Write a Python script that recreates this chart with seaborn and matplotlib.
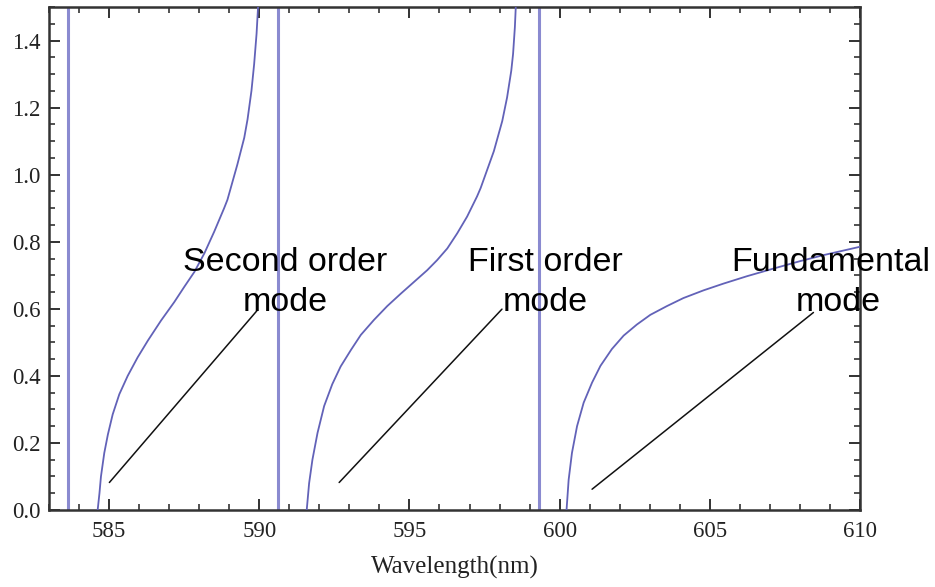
import matplotlib
matplotlib.use("Agg")
import matplotlib.pyplot as plt
import seaborn as sns
import pandas as pd
from matplotlib.ticker import MultipleLocator

# ---- data ----
second_x = [584.62, 584.68, 584.73, 584.84, 584.96, 585.12, 585.34, 585.62, 585.95,
            586.29, 586.73, 587.17, 587.50, 587.84, 588.17, 588.50, 588.83, 588.94,
            589.27, 589.50, 589.61, 589.74, 589.83, 589.91, 589.96]
second_y = [0.00, 0.05, 0.10, 0.17, 0.225, 0.285, 0.345, 0.40, 0.455,
            0.505, 0.565, 0.62, 0.665, 0.71, 0.765, 0.83, 0.90, 0.925,
            1.03, 1.11, 1.165, 1.25, 1.33, 1.42, 1.50]

first_x = [591.58, 591.66, 591.77, 591.94, 592.16, 592.43, 592.71, 593.05, 593.38,
           593.82, 594.26, 594.71, 595.15, 595.59, 595.92, 596.26, 596.59, 596.92,
           597.25, 597.37, 597.81, 598.09, 598.25, 598.39, 598.45, 598.51, 598.54]
first_y = [0.00, 0.08, 0.15, 0.23, 0.31, 0.375, 0.428, 0.477, 0.522,
           0.567, 0.608, 0.645, 0.68, 0.715, 0.745, 0.78, 0.825, 0.875,
           0.935, 0.96, 1.07, 1.16, 1.23, 1.31, 1.36, 1.44, 1.50]

fund_x = [600.23, 600.30, 600.41, 600.58, 600.80, 601.08, 601.36, 601.74, 602.13,
          602.57, 603.02, 603.57, 604.12, 604.79, 605.45, 606.23, 607.12, 608.00,
          608.78, 610.00]
fund_y = [0.00, 0.09, 0.17, 0.25, 0.32, 0.38, 0.43, 0.48, 0.52,
          0.553, 0.582, 0.608, 0.632, 0.655, 0.675, 0.697, 0.72, 0.742,
          0.76, 0.785]

asymptotes = [583.64, 590.62, 599.30]

labels_line1 = ["Second order", "First order", "Fundamental"]
labels_line2 = ["mode", "mode", "mode"]
label_x1 = [590.85, 599.53, 609.04]
label_x2 = [590.85, 599.53, 609.27]
label_y1 = 0.713
label_y2 = 0.593

leader_start_x = [585.01, 592.66, 601.08]
leader_start_y = [0.082, 0.082, 0.062]
leader_end_x = [589.92, 598.08, 608.45]
leader_end_y = [0.594, 0.599, 0.589]

xticks = [585, 590, 595, 600, 605, 610]
yticks = [0.0, 0.2, 0.4, 0.6, 0.8, 1.0, 1.2, 1.4]

# ---- build table ----
df = pd.concat([
    pd.DataFrame({"x": second_x, "y": second_y, "mode": "second"}),
    pd.DataFrame({"x": first_x, "y": first_y, "mode": "first"}),
    pd.DataFrame({"x": fund_x, "y": fund_y, "mode": "fund"}),
], ignore_index=True)

sns.set_theme(style="ticks")
plt.rcParams["font.family"] = ["Liberation Serif", "DejaVu Serif"]

fig = plt.figure(figsize=(9.35, 5.87), dpi=100)
ax = fig.add_axes([49 / 935, 77 / 587, 811 / 935, 503 / 587])
ax.set_facecolor("white")

curve_color = "#6262b8"
asym_color = "#8a8ad0"

for xv in asymptotes:
    ax.axvline(xv, color=asym_color, lw=2.2, zorder=2)

sns.lineplot(data=df, x="x", y="y", hue="mode", units="mode", estimator=None,
             sort=False, palette=[curve_color] * 3, lw=1.3, legend=False, ax=ax,
             zorder=3)

for sx, sy, ex, ey in zip(leader_start_x, leader_start_y, leader_end_x, leader_end_y):
    sns.lineplot(x=[sx, ex], y=[sy, ey], color="#111111", lw=1.1, ax=ax,
                 estimator=None, sort=False, zorder=4)

for t1, t2, x1, x2 in zip(labels_line1, labels_line2, label_x1, label_x2):
    ax.text(x1, label_y1, t1, ha="center", va="baseline", fontsize=24.5,
            family=["Liberation Sans", "DejaVu Sans"], color="#000000",
            clip_on=False, zorder=5)
    ax.text(x2, label_y2, t2, ha="center", va="baseline", fontsize=24.5,
            family=["Liberation Sans", "DejaVu Sans"], color="#000000",
            clip_on=False, zorder=5)

ax.set_xlim(583.0, 610.0)
ax.set_ylim(0.0, 1.5)
ax.set_xticks(xticks)
ax.set_xticklabels([str(v) for v in xticks])
ax.set_yticks(yticks)
ax.set_yticklabels([f"{v:.1f}" for v in yticks])
ax.xaxis.set_minor_locator(MultipleLocator(1))
ax.yaxis.set_minor_locator(MultipleLocator(0.05))

ax.tick_params(which="both", direction="in", top=True, right=True,
               labeltop=False, labelright=False, color="#222222")
ax.tick_params(which="major", length=8, width=1.3, labelsize=16.5,
               labelcolor="#222222")
ax.tick_params(axis="x", which="major", pad=8)
ax.tick_params(axis="y", which="major", pad=6)
ax.tick_params(which="minor", length=4.5, width=1.1)

for sp in ax.spines.values():
    sp.set_visible(True)
    sp.set_color("#333333")
    sp.set_linewidth(1.8)

ax.set_xlabel("Wavelength(nm)", fontsize=18, color="#222222", labelpad=10)
ax.set_ylabel("")
ax.grid(False)

fig.savefig("out.png", dpi=100, facecolor="white")
